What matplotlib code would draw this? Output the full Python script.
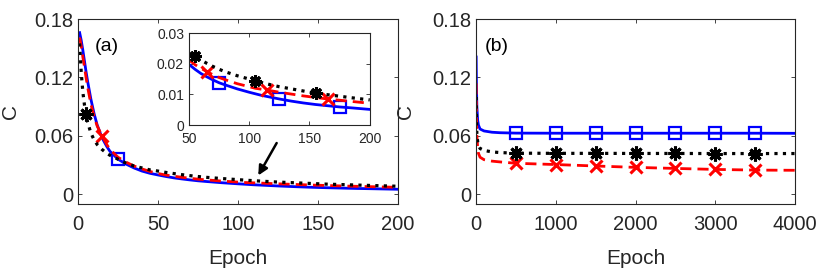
import numpy as np
import matplotlib
matplotlib.use("Agg")
import matplotlib.pyplot as plt

plt.rcParams['font.family'] = ['Liberation Sans', 'DejaVu Sans']

# ---------------- Data: panel (a) ----------------
epochs_a = [1, 2, 3, 4, 5, 6, 8, 10, 12, 15, 18, 20, 25, 30, 35, 40, 45, 50, 55, 60,
            65, 70, 75, 80, 90, 100, 105, 110, 115, 125, 135, 145, 155, 165, 175, 185, 200]
blue_a = [0.166, 0.158, 0.148, 0.137, 0.126, 0.116, 0.098, 0.083, 0.071, 0.058, 0.049, 0.044,
          0.036, 0.031, 0.027, 0.0238, 0.0215, 0.0198, 0.0182, 0.0168, 0.0157, 0.0147, 0.0138,
          0.0131, 0.0118, 0.0107, 0.0102, 0.0097, 0.0093, 0.0085, 0.0078, 0.0072, 0.0067,
          0.0063, 0.0059, 0.0056, 0.0051]
red_a = [0.161, 0.152, 0.141, 0.131, 0.120, 0.110, 0.093, 0.080, 0.070, 0.060, 0.051, 0.046,
         0.038, 0.033, 0.029, 0.026, 0.0234, 0.0213, 0.0197, 0.0185, 0.0174, 0.0164, 0.0155,
         0.0148, 0.0135, 0.0125, 0.0120, 0.0117, 0.0114, 0.0107, 0.0101, 0.0095, 0.0090,
         0.0085, 0.0081, 0.0077, 0.0071]
black_a = [0.155, 0.125, 0.105, 0.092, 0.082, 0.074, 0.063, 0.056, 0.051, 0.046, 0.042, 0.040,
           0.036, 0.032, 0.029, 0.027, 0.025, 0.0238, 0.0224, 0.0212, 0.0201, 0.0191, 0.0182,
           0.0174, 0.0161, 0.0150, 0.0144, 0.0139, 0.0134, 0.0125, 0.0118, 0.0111, 0.0104,
           0.0099, 0.0094, 0.0089, 0.0082]
# marker epochs (main panel and inset)
blue_mk_main, red_mk_main, black_mk_main = [25], [15], [5]
blue_mk_inset, red_mk_inset, black_mk_inset = [75, 125, 175], [65, 115, 165], [55, 105, 155]

# ---------------- Data: panel (b) ----------------
epochs_b = [1, 3, 5, 10, 20, 30, 50, 100, 200, 300, 500, 1000, 1500, 2000, 2500, 3000, 3500, 4000]
blue_b = [0.141, 0.125, 0.110, 0.090, 0.076, 0.071, 0.067, 0.065, 0.0637, 0.0632, 0.0628,
          0.0627, 0.0627, 0.0627, 0.0627, 0.0627, 0.0627, 0.0626]
black_b = [0.100, 0.085, 0.075, 0.062, 0.054, 0.050, 0.047, 0.045, 0.0435, 0.0428, 0.0422,
           0.042, 0.042, 0.0419, 0.0419, 0.0418, 0.0418, 0.0418]
red_b = [0.114, 0.095, 0.080, 0.060, 0.048, 0.042, 0.038, 0.0355, 0.034, 0.0332, 0.0318,
         0.0305, 0.029, 0.0276, 0.0265, 0.0255, 0.0248, 0.0246]
mk_b = [500, 1000, 1500, 2000, 2500, 3000, 3500]

yticks = [0, 0.06, 0.12, 0.18]
ytick_labels = ['0', '0.06', '0.12', '0.18']
xticks_a = [0, 50, 100, 150, 200]
xticks_b = [0, 1000, 2000, 3000, 4000]
inset_xticks = [50, 100, 150, 200]
inset_yticks = [0, 0.01, 0.02, 0.03]
inset_ytick_labels = ['0', '0.01', '0.02', '0.03']

BLUE, RED, BLACK = '#0000ff', '#ff0000', '#000000'
GREY = '#262626'
AST = (8, 2, 0)

def idx(xs, sel):
    return [xs.index(v) for v in sel]

def style_axes(ax, fs, xpad):
    for s in ax.spines.values():
        s.set_color(GREY)
        s.set_linewidth(0.8)
    ax.tick_params(direction='in', top=True, right=True, colors=GREY,
                   labelcolor=GREY, labelsize=fs, length=3, width=0.6)
    ax.tick_params(axis='x', pad=xpad)

def draw(ax, x, b, r, k, bm, rm, km, lw=2.0, ms=9):
    ax.plot(x, b, '-', color=BLUE, lw=lw, marker='s', markevery=idx(x, bm),
            ms=ms, mfc='none', mec=BLUE, mew=1.6)
    ax.plot(x, r, '--', color=RED, lw=lw, dashes=(4, 2.2), marker='x', markevery=idx(x, rm),
            ms=ms, mec=RED, mew=2.2)
    ax.plot(x, k, ':', color=BLACK, lw=lw + 0.3, marker=AST, markevery=idx(x, km),
            ms=ms + 1, mec=BLACK, mew=2.2)

fig = plt.figure(figsize=(8.18, 2.76), dpi=100)
ax1 = fig.add_axes([0.0954, 0.261, 0.391, 0.670])
ax2 = fig.add_axes([0.582, 0.261, 0.390, 0.670])
axin = fig.add_axes([0.231, 0.547, 0.221, 0.333])

# Panel (a)
draw(ax1, epochs_a, blue_a, red_a, black_a, blue_mk_main, red_mk_main, black_mk_main)
ax1.set_xlim(0, 200)
ax1.set_ylim(-0.01, 0.18)
ax1.set_xticks(xticks_a)
ax1.set_yticks(yticks)
ax1.set_yticklabels(ytick_labels)
style_axes(ax1, 14.5, 8)
ax1.set_xlabel('Epoch', fontsize=15, color=GREY, labelpad=11)
ax1.set_ylabel('C', fontsize=15, color=GREY)
ax1.yaxis.set_label_coords(-0.18, 0.5)
ax1.text(0.053, 0.85, '(a)', transform=ax1.transAxes, fontsize=14, color=BLACK, va='center')
ax1.annotate('', xy=(112.7, 0.0193), xytext=(124.2, 0.0526),
             arrowprops=dict(arrowstyle='-|>', color='black', lw=1.8,
                             mutation_scale=14, shrinkA=0, shrinkB=0))

# Inset
draw(axin, epochs_a, blue_a, red_a, black_a, blue_mk_inset, red_mk_inset, black_mk_inset,
     lw=2.0, ms=8)
axin.set_xlim(50, 200)
axin.set_ylim(0, 0.03)
axin.set_xticks(inset_xticks)
axin.set_yticks(inset_yticks)
axin.set_yticklabels(inset_ytick_labels)
style_axes(axin, 10, 5)
axin.set_facecolor('white')

# Panel (b)
draw(ax2, epochs_b, blue_b, red_b, black_b, mk_b, mk_b, mk_b)
ax2.set_xlim(0, 4000)
ax2.set_ylim(-0.01, 0.18)
ax2.set_xticks(xticks_b)
ax2.set_yticks(yticks)
ax2.set_yticklabels(ytick_labels)
style_axes(ax2, 14.5, 8)
ax2.set_xlabel('Epoch', fontsize=15, color=GREY, labelpad=11)
ax2.set_ylabel('C', fontsize=15, color=GREY)
ax2.yaxis.set_label_coords(-0.19, 0.5)
ax2.text(0.028, 0.85, '(b)', transform=ax2.transAxes, fontsize=14, color=BLACK, va='center')

fig.savefig('out.png', dpi=100)
